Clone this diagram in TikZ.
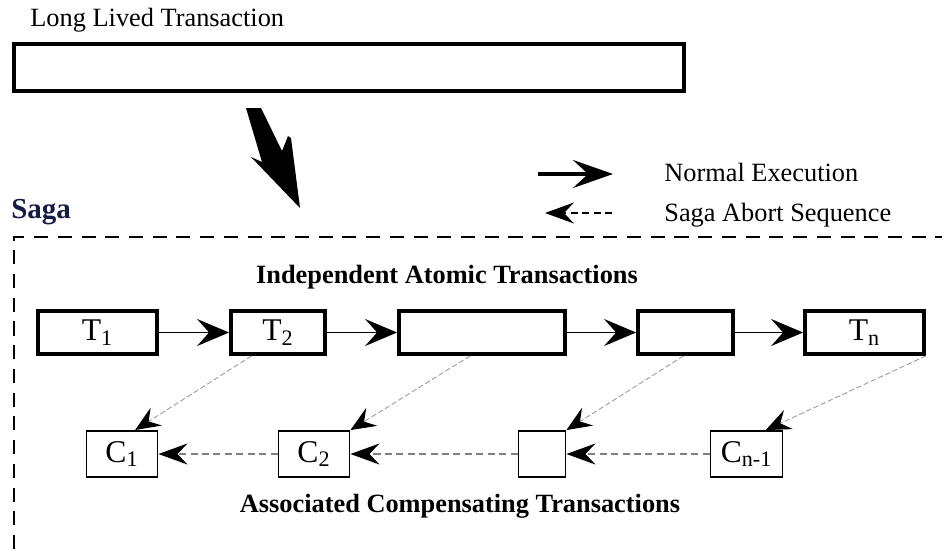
\documentclass[tikz,border=0pt]{standalone}
\usepackage{fontspec}
\setmainfont{Liberation Serif}
\usepackage{tikz}
\usetikzlibrary{arrows.meta,calc}

\definecolor{sagablue}{RGB}{22,28,66}

\begin{document}
\begin{tikzpicture}[
    x=0.02cm, y=-0.02cm,
    txn/.style={draw, line width=2.2pt, inner sep=0pt, minimum height=0.86cm, font=\fontsize{18}{20}\selectfont},
    comp/.style={draw, line width=1.1pt, inner sep=0pt, minimum height=0.92cm, font=\fontsize{18}{20}\selectfont},
    caption/.style={inner sep=0pt, anchor=base west, font=\fontsize{15}{17}\selectfont},
    heading/.style={inner sep=0pt, anchor=base, font=\fontsize{15}{17}\selectfont\bfseries},
    forward/.style={line width=1.1pt, -{Stealth[length=0.64cm, width=0.54cm, inset=0.24cm]}},
    backward/.style={gray, line width=0.6pt, dash pattern=on 4pt off 2.5pt, -{Stealth[black, length=0.58cm, width=0.42cm, inset=0.2cm]}},
    undo/.style={gray!80, line width=0.5pt, dash pattern=on 3pt off 1.5pt, -{Stealth[black, length=0.5cm, width=0.42cm, inset=0.18cm]}}
]
\useasboundingbox (0,0) rectangle (942,549);

% === Long lived transaction ===
\node[caption] (lltlabel) at (30,26) {Long Lived Transaction};
\node[draw, line width=2.3pt, minimum width=13.4cm, minimum height=0.94cm] (llt) at (349,67.5) {};

% big arrow down to the saga
\fill (246,108) -- (261,108) -- (282,151) -- (288,136) -- (291,138) -- (300,208)
    -- (251,157) -- (262,162) -- cycle;

% === Legend ===
\coordinate (normA) at (538,174);
\coordinate (normB) at (613,174);
\draw[line width=2.3pt, -{Stealth[length=0.8cm, width=0.56cm, inset=0.3cm]}] (normA) -- (normB);
\node[caption] (normtext) at (664,181) {Normal Execution};

\coordinate (abortA) at (612,213);
\coordinate (abortB) at (545,213);
\draw[backward, black] (abortA) -- (abortB);
\node[caption] (aborttext) at (664,221) {Saga Abort Sequence};

% === Saga ===
\node[inner sep=0pt, anchor=base west, font=\fontsize{16.5}{19}\selectfont\bfseries, text=sagablue] (saga) at (11,218) {Saga};
\draw[line width=1.1pt, dash pattern=on 8pt off 5.5pt] (14,549) -- (14,237) -- (942,237);

\node[heading] (toptitle) at (447,283) {Independent Atomic Transactions};
\node[heading] (bottitle) at (460,512) {Associated Compensating Transactions};

% transactions
\node[txn, minimum width=2.38cm] (t1) at (97.5,332.5) {T\textsubscript{1}};
\node[txn, minimum width=1.88cm] (t2) at (278,332.5) {T\textsubscript{2}};
\node[txn, minimum width=3.32cm] (t3) at (482,332.5) {};
\node[txn, minimum width=1.90cm] (t4) at (685.5,332.5) {};
\node[txn, minimum width=2.38cm] (tn) at (864.5,332.5) {T\textsubscript{n}};

% compensations
\node[comp, minimum width=1.42cm] (c1) at (122,454) {C\textsubscript{1}};
\node[comp, minimum width=1.42cm] (c2) at (314,454) {C\textsubscript{2}};
\node[comp, minimum width=0.94cm] (c3) at (542,454) {};
\node[comp, minimum width=1.44cm] (cn) at (746.5,454) {C\textsubscript{n-1}};

% normal execution
\draw[forward] (t1) -- (t2);
\draw[forward] (t2) -- (t3);
\draw[forward] (t3) -- (t4);
\draw[forward] (t4) -- (tn);

% abort: each transaction back to the previous compensation
\draw[undo] ($(t2.south west)!0.23!(t2.south east)$) -- ($(c1.north west)!0.68!(c1.north east)$);
\draw[undo] ($(t3.south west)!0.43!(t3.south east)$) -- (c2.north east);
\draw[undo] ($(t4.south west)!0.48!(t4.south east)$) -- (c3.north east);
\draw[undo] (tn.south east) -- ($(cn.north west)!0.76!(cn.north east)$);

% abort: compensations run backwards
\draw[backward] (cn) -- (c3);
\draw[backward] (c3) -- (c2);
\draw[backward] (c2) -- (c1);

\end{tikzpicture}
\end{document}
